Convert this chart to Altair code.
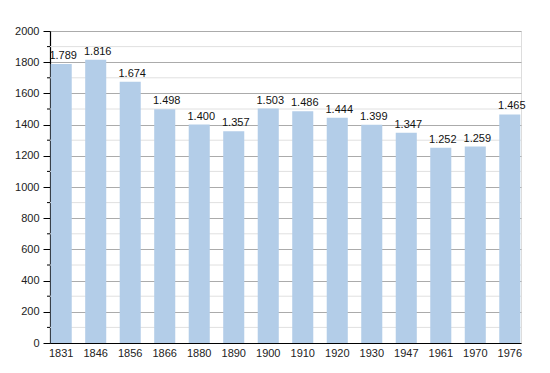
import altair as alt
import pandas as pd

years = ["1831", "1846", "1856", "1866", "1880", "1890", "1900", "1910",
         "1920", "1930", "1947", "1961", "1970", "1976"]
population = [1789, 1816, 1674, 1498, 1400, 1357, 1503, 1486,
              1444, 1399, 1347, 1252, 1259, 1465]
labels = ["1.789", "1.816", "1.674", "1.498", "1.400", "1.357", "1.503", "1.486",
          "1.444", "1.399", "1.347", "1.252", "1.259", "1.465"]
minor_grid = [100, 300, 500, 700, 900, 1100, 1300, 1500, 1700, 1900]

df = pd.DataFrame({"year": years, "pop": population, "label": labels})
minor_df = pd.DataFrame({"v": minor_grid})

yscale = alt.Scale(domain=[0, 2000], nice=False)
xscale = alt.Scale(paddingInner=0.39, paddingOuter=0.02)

font = "Liberation Sans"

yaxis = alt.Axis(title=None, values=list(range(0, 2001, 200)), format="d",
                 grid=True, gridColor="#ababab", gridWidth=1,
                 tickColor="#000000", tickSize=7, domainColor="#000000",
                 domainWidth=1.2, labelFont=font, labelFontSize=11,
                 labelColor="#222222", labelPadding=4, labelOverlap=False,
                 labelFlush=False)
xaxis = alt.Axis(title=None, labelAngle=0, ticks=False, domainColor="#000000",
                 domainWidth=1.2, labelFont=font, labelFontSize=11,
                 labelColor="#222222", labelPadding=4, grid=False,
                 labelOverlap=False)

minor = alt.Chart(minor_df).mark_rule(color="#e0e0e0", strokeWidth=1).encode(
    y=alt.Y("v:Q", scale=yscale, axis=yaxis)
)

bars = alt.Chart(df).mark_bar(color="#b3cde8").encode(
    x=alt.X("year:N", sort=years, scale=xscale, axis=xaxis),
    y=alt.Y("pop:Q", scale=yscale, axis=yaxis),
)

minor_ticks = alt.Chart(minor_df).mark_rule(color="#000000", strokeWidth=1).encode(
    y=alt.Y("v:Q", scale=yscale, axis=yaxis),
    x=alt.value(-3),
    x2=alt.value(0),
)

text = alt.Chart(df).mark_text(baseline="bottom", dy=-3, dx=2, font=font, fontSize=11,
                               color="#111111").encode(
    x=alt.X("year:N", sort=years, scale=xscale, axis=xaxis),
    y=alt.Y("pop:Q", scale=yscale, axis=yaxis),
    text="label:N",
)

chart = alt.layer(minor, bars, minor_ticks, text).properties(
    width=471,
    height=312,
    autosize="none",
    padding={"left": 42, "top": 23, "right": 21, "bottom": 22},
).configure_view(stroke=None).configure(background="white")

chart.save("out.html", embed_options={"renderer": "svg", "actions": False})
